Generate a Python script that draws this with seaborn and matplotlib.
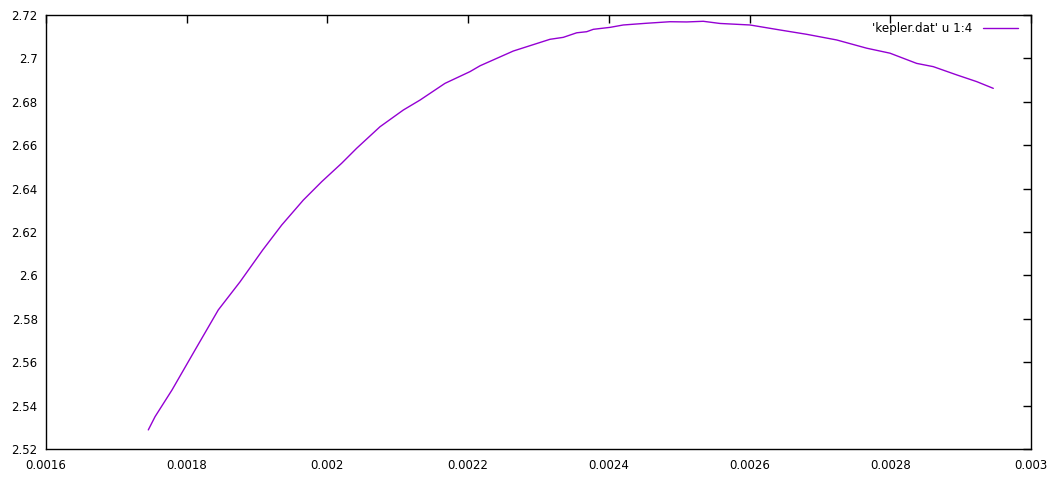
import pandas as pd
import seaborn as sns
import matplotlib
matplotlib.use("Agg")
import matplotlib.pyplot as plt

# values ('kepler.dat' u 1:4)
col1 = [0.0017454, 0.0017550, 0.0017791, 0.0018118, 0.0018449, 0.0018757,
        0.0019080, 0.0019350, 0.0019657, 0.0019919, 0.0020203, 0.0020416,
        0.0020747, 0.0021078, 0.0021316, 0.0021671, 0.0022026, 0.0022169,
        0.0022642, 0.0023163, 0.0023352, 0.0023543, 0.0023685, 0.0023779,
        0.0024016, 0.0024205, 0.0024538, 0.0024869, 0.0025106, 0.0025342,
        0.0025580, 0.0026006, 0.0026432, 0.0026812, 0.0027238, 0.0027665,
        0.0027996, 0.0028375, 0.0028611, 0.0028944, 0.0029228, 0.0029464]
col4 = [2.5288, 2.5349, 2.5472, 2.5656, 2.5841, 2.5970,
        2.6117, 2.6232, 2.6347, 2.6432, 2.6517, 2.6586,
        2.6685, 2.6762, 2.6808, 2.6885, 2.6939, 2.6966,
        2.7034, 2.7088, 2.7097, 2.7118, 2.7123, 2.7134,
        2.7143, 2.7154, 2.7162, 2.7169, 2.7168, 2.7171,
        2.7161, 2.7154, 2.7131, 2.7111, 2.7085, 2.7047,
        2.7024, 2.6977, 2.6962, 2.6924, 2.6893, 2.6862]

xticks = [0.0016, 0.0018, 0.002, 0.0022, 0.0024, 0.0026, 0.0028, 0.003]
yticks = [2.52, 2.54, 2.56, 2.58, 2.6, 2.62, 2.64, 2.66, 2.68, 2.7, 2.72]

df = pd.DataFrame({"x": col1, "y": col4})

sns.set_style("white")
plt.rcParams['font.family'] = ['DejaVu Sans']
plt.rcParams['text.color'] = 'black'

fig = plt.figure(figsize=(10.52, 4.82), dpi=100)
ax = fig.add_axes([46 / 1052, 33 / 482, 985 / 1052, 434 / 482])

sns.lineplot(data=df, x="x", y="y", sort=False, color="#9400D3", linewidth=1.0,
             label="'kepler.dat' u 1:4", ax=ax)

ax.set_xlim(0.0016, 0.003)
ax.set_ylim(2.52, 2.72)
ax.set_xticks(xticks)
ax.set_yticks(yticks)
ax.set_xticklabels(["%g" % v for v in xticks])
ax.set_yticklabels(["%g" % v for v in yticks])
ax.tick_params(direction="in", length=6, width=1, top=True, right=True,
               labelsize=8.5, colors="black", pad=6)
ax.tick_params(axis="x", pad=7.5)
ax.set_xlabel("")
ax.set_ylabel("")
for s in ax.spines.values():
    s.set_color("black")
    s.set_linewidth(1)

leg = ax.legend(loc="upper right", bbox_to_anchor=(0.992, 0.995), frameon=False,
                markerfirst=False, fontsize=8.6, handlelength=2.93,
                handletextpad=0.9, borderaxespad=0)
for t in leg.get_texts():
    t.set_color("black")

fig.savefig("out.png", dpi=100)
